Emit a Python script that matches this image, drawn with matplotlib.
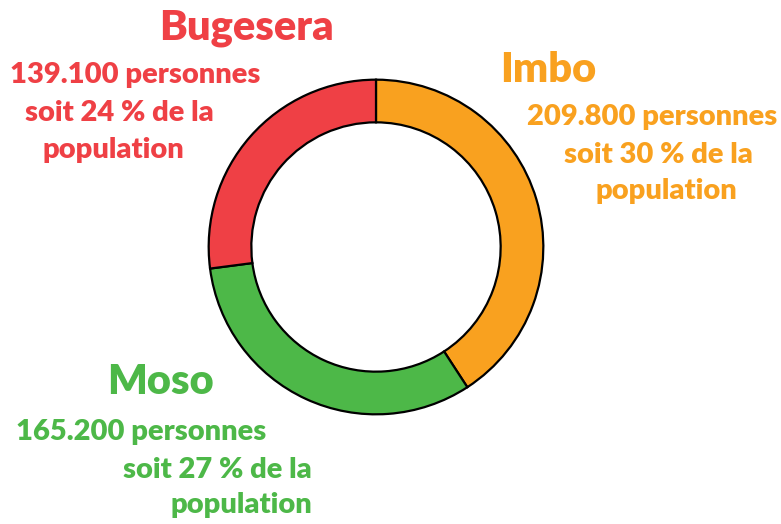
import matplotlib.pyplot as plt

# ---------------- DATA ----------------
regions = ["Imbo", "Moso", "Bugesera"]
persons = [209.8, 165.2, 139.1]   # milliers de personnes
persons_txt = ["209.800", "165.200", "139.100"]
percents = [30, 27, 24]
colors = ["#F9A11F", "#4DB848", "#EF4045"]

W, H = 781, 524
fig = plt.figure(figsize=(W / 100, H / 100), dpi=100)
fig.patch.set_facecolor("white")

# ---------------- DONUT ----------------
cx, cy, r = 376, 247, 169
ax = fig.add_axes([(cx - r) / W, (H - cy - r) / H, 2 * r / W, 2 * r / H])
ax.pie(persons, colors=colors, startangle=90, counterclock=False,
       radius=1, wedgeprops=dict(width=0.255, edgecolor="black", linewidth=1.6))
ax.set_xlim(-1.01, 1.01)
ax.set_ylim(-1.01, 1.01)
ax.set_aspect("equal")
ax.axis("off")

# ---------------- LABELS ----------------
font = "Lato"
big, small = 30, 21
def put(x, y, s, color, size, ha="center"):
    fig.text(x / W, 1 - y / H, s, color=color, fontsize=size, fontweight="heavy",
             family=font, ha=ha, va="center")

# Imbo
put(548, 70, regions[0], colors[0], big)
put(652, 117, persons_txt[0] + " personnes", colors[0], small)
put(658, 155, "soit %d %% de la" % percents[0], colors[0], small)
put(666, 191, "population", colors[0], small)

# Moso
put(160, 382, regions[1], colors[1], big)
put(141, 432, persons_txt[1] + " personnes", colors[1], small)
put(312, 470, "soit %d %% de la" % percents[1], colors[1], small, ha="right")
put(312, 505, "population", colors[1], small, ha="right")

# Bugesera
put(246, 28, regions[2], colors[2], big)
put(135, 75, persons_txt[2] + " personnes", colors[2], small)
put(119, 113, "soit %d %% de la" % percents[2], colors[2], small)
put(113, 150, "population", colors[2], small)

fig.savefig("out.png", dpi=100)
